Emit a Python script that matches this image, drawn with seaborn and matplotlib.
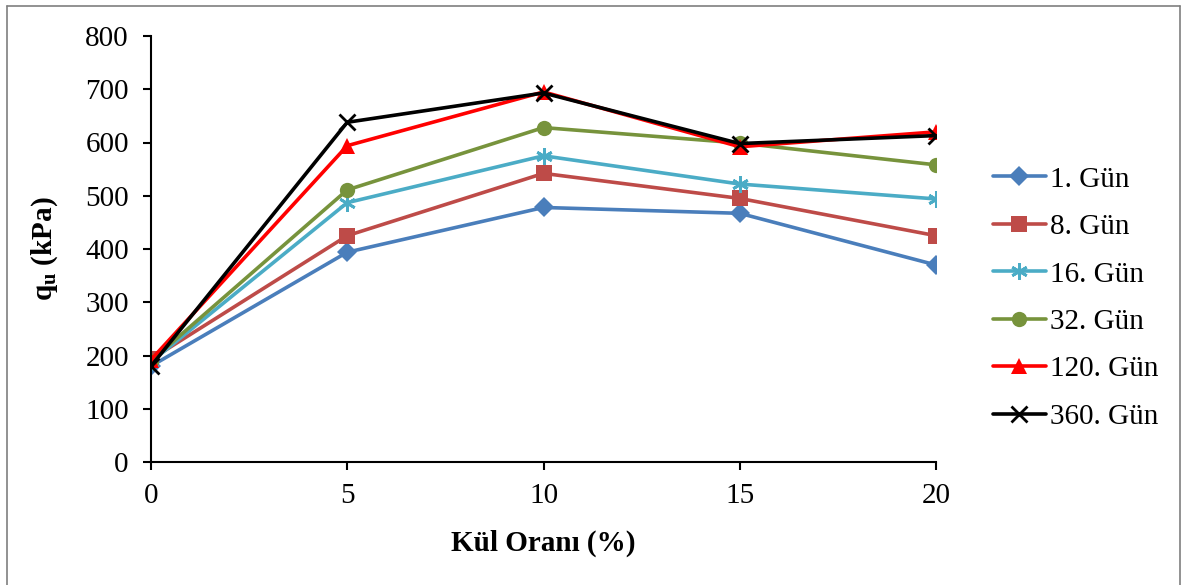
import matplotlib
matplotlib.use("Agg")
import matplotlib.pyplot as plt
import seaborn as sns
import pandas as pd
from matplotlib.lines import Line2D

# Data
kul_orani = [0, 5, 10, 15, 20]
gun_1 = [180, 394, 478, 467, 370]
gun_8 = [193, 425, 542, 495, 425]
gun_16 = [188, 487, 575, 522, 494]
gun_32 = [190, 511, 628, 599, 558]
gun_120 = [192, 594, 695, 592, 620]
gun_360 = [180, 638, 693, 598, 613]
labels = ["1. Gün", "8. Gün", "16. Gün", "32. Gün", "120. Gün", "360. Gün"]
series = [gun_1, gun_8, gun_16, gun_32, gun_120, gun_360]

colors = ["#4A7EBB", "#BE4B48", "#4BACC6", "#77933C", "#FF0000", "#000000"]
markers = ["D", "s", (6, 2, 0), "o", "^", "x"]
msizes = [10, 11, 12, 11, 11, 11]

sns.set_theme(style="white")
plt.rcParams["font.family"] = ["Liberation Serif", "DejaVu Serif"]
plt.rcParams["mathtext.fontset"] = "custom"
plt.rcParams["mathtext.rm"] = "Liberation Serif"
plt.rcParams["mathtext.bf"] = "Liberation Serif:bold"
plt.rcParams["text.color"] = "black"
plt.rcParams["axes.labelcolor"] = "black"

fig = plt.figure(figsize=(11.84, 5.85), dpi=100)
ax = fig.add_axes([151/1184, 1-462/585, (936-151)/1184, (462-36)/585])

for lab, vals, c, m, ms in zip(labels, series, colors, markers, msizes):
    df = pd.DataFrame({"x": kul_orani, "y": vals})
    mew = 2 if m in ("x", (6, 2, 0)) else 0
    sns.lineplot(data=df, x="x", y="y", ax=ax, color=c, marker=m, markersize=ms,
                 markeredgewidth=mew, markeredgecolor=c, linewidth=2.6, label=lab)

ax.set_xlim(0, 20)
ax.set_ylim(0, 800)
ax.set_xticks([0, 5, 10, 15, 20])
ax.set_yticks(range(0, 801, 100))
ax.tick_params(axis="both", which="both", direction="out", length=6, width=1.5,
               color="black", labelsize=21, labelcolor="black", bottom=True, left=True)
ax.tick_params(axis="x", pad=9)
ax.tick_params(axis="y", pad=10)
for s in ["top", "right"]:
    ax.spines[s].set_visible(False)
for s in ["left", "bottom"]:
    ax.spines[s].set_color("black")
    ax.spines[s].set_linewidth(1.5)
ax.grid(False)

ax.set_xlabel("Kül Oranı (%)", fontsize=21, fontweight="bold", labelpad=15, color="black")
ax.set_ylabel(r"$\mathbf{q_u}$ (kPa)", fontsize=21, fontweight="bold", labelpad=18, color="black")

leg = ax.legend(loc="center left", bbox_to_anchor=(993/1184, 1-298/585), bbox_transform=fig.transFigure,
                frameon=False, fontsize=21, handlelength=1.8, labelspacing=0.72, handletextpad=0.15,
                borderaxespad=0, borderpad=0)
for t in leg.get_texts():
    t.set_color("black")

# Outer border
bc = "#7F7F7F"
fig.add_artist(Line2D([7/1184, 7/1184], [0, 1-6/585], color=bc, lw=1.2, transform=fig.transFigure))
fig.add_artist(Line2D([7/1184, 1180/1184], [1-6/585, 1-6/585], color=bc, lw=1.2, transform=fig.transFigure))
fig.add_artist(Line2D([1180/1184, 1180/1184], [0, 1-6/585], color=bc, lw=1.2, transform=fig.transFigure))

fig.savefig("out.png", dpi=100, facecolor="white")
